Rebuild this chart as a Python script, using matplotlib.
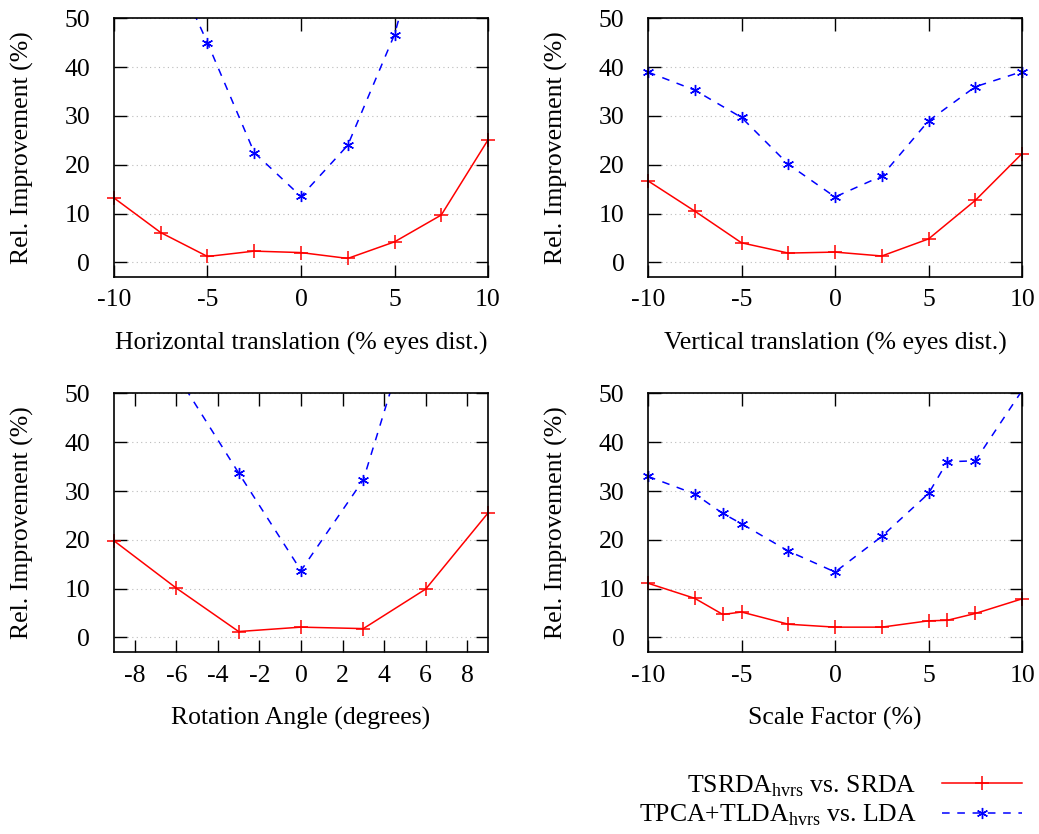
import matplotlib
matplotlib.use('Agg')
import matplotlib.pyplot as plt
from matplotlib.lines import Line2D
import numpy as np

plt.rcParams['font.family'] = ['Liberation Serif', 'DejaVu Serif']
plt.rcParams['mathtext.fontset'] = 'custom'
plt.rcParams['mathtext.rm'] = 'Liberation Serif'
plt.rcParams['axes.unicode_minus'] = False

# horizontal translation
hx = [-10, -7.5, -5, -2.5, 0, 2.5, 5, 7.5, 10]
h_srda = [13.2, 6.1, 1.2, 2.3, 2.0, 0.8, 4.2, 9.7, 25.1]
h_lda = [88.0, 66.0, 45.0, 22.5, 13.5, 24.0, 46.7, 81.0, 110.0]

# vertical translation
vx = [-10, -7.5, -5, -2.5, 0, 2.5, 5, 7.5, 10]
v_srda = [16.7, 10.5, 4.0, 1.9, 2.1, 1.3, 4.8, 12.7, 22.3]
v_lda = [39.0, 35.3, 29.7, 20.1, 13.4, 17.7, 29.0, 36.0, 39.1]

# rotation
rx = [-9, -6, -3, 0, 3, 6, 9]
r_srda = [19.8, 10.1, 1.2, 2.1, 1.8, 9.9, 25.5]
r_lda = [75.0, 54.0, 33.7, 13.7, 32.3, 74.0, 100.0]

# scale
sx = [-10, -7.5, -6, -5, -2.5, 0, 2.5, 5, 6, 7.5, 10]
s_srda = [11.1, 8.0, 4.7, 5.2, 2.7, 2.1, 2.1, 3.4, 3.5, 4.9, 7.9]
s_lda = [33.0, 29.4, 25.4, 23.3, 17.7, 13.4, 20.7, 29.5, 36.0, 36.2, 50.6]

panels = [
    (hx, h_srda, h_lda, 'Horizontal translation (% eyes dist.)', (-10, 10), [-10, -5, 0, 5, 10]),
    (vx, v_srda, v_lda, 'Vertical translation (% eyes dist.)', (-10, 10), [-10, -5, 0, 5, 10]),
    (rx, r_srda, r_lda, 'Rotation Angle (degrees)', (-9, 9), [-8, -6, -4, -2, 0, 2, 4, 6, 8]),
    (sx, s_srda, s_lda, 'Scale Factor (%)', (-10, 10), [-10, -5, 0, 5, 10]),
]

star = (6, 2, 0)
fs = 18.5
fig = plt.figure(figsize=(10.39, 8.34), dpi=100)
lefts = [0.1097, 0.6237]
bottoms = [0.6679, 0.2182]
ylim = (-3, 50)

for i, (x, a, b, xlabel, xlim, xticks) in enumerate(panels):
    ax = fig.add_axes([lefts[i % 2], bottoms[i // 2], 0.36, 0.31])
    x = np.array(x); a = np.array(a); b = np.array(b)
    ax.plot(x, a, color='red', lw=1.1)
    ax.plot(x, b, color='blue', lw=1.1, ls=(0, (5, 5)))
    m = (a >= ylim[0]) & (a <= ylim[1])
    ax.plot(x[m], a[m], ls='none', marker='+', ms=10, mew=1.1, color='red', clip_on=False)
    m = (b >= ylim[0]) & (b <= ylim[1])
    ax.plot(x[m], b[m], ls='none', marker=star, ms=8, mew=1.0, color='blue', clip_on=False)
    ax.set_xlim(*xlim); ax.set_ylim(*ylim)
    ax.set_xticks(xticks); ax.set_yticks(range(0, 51, 10))
    ax.yaxis.grid(True, ls=(0, (1, 3)), color='#bbbbbb', lw=0.8)
    ax.tick_params(direction='in', length=9, width=1, top=True, right=True, labelsize=fs)
    ax.tick_params(axis='y', pad=17)
    ax.tick_params(axis='x', pad=9)
    for s in ax.spines.values():
        s.set_linewidth(1.2)
    ax.set_xlabel(xlabel, fontsize=fs, va='center')
    ax.set_ylabel('Rel. Improvement (%)', fontsize=fs, va='center')
    ax.xaxis.set_label_coords(0.5, -0.256)
    ax.yaxis.set_label_coords(-0.246, 0.5)

handles = [
    Line2D([], [], color='red', lw=1.1, marker='+', ms=10, mew=1.1),
    Line2D([], [], color='blue', lw=1.1, ls=(0, (5, 5)), marker=star, ms=8, mew=1.0),
]
labels = ['TSRDA$_{\\rm hvrs}$ vs. SRDA', 'TPCA+TLDA$_{\\rm hvrs}$ vs. LDA']
fig.legend(handles, labels, loc='lower right', bbox_to_anchor=(1022 / 1039, 1 - 828 / 834),
           frameon=False, markerfirst=False, fontsize=fs, handlelength=3.1,
           labelspacing=0.15, handletextpad=1.0, borderpad=0, borderaxespad=0)

fig.savefig('out.png', dpi=100)
